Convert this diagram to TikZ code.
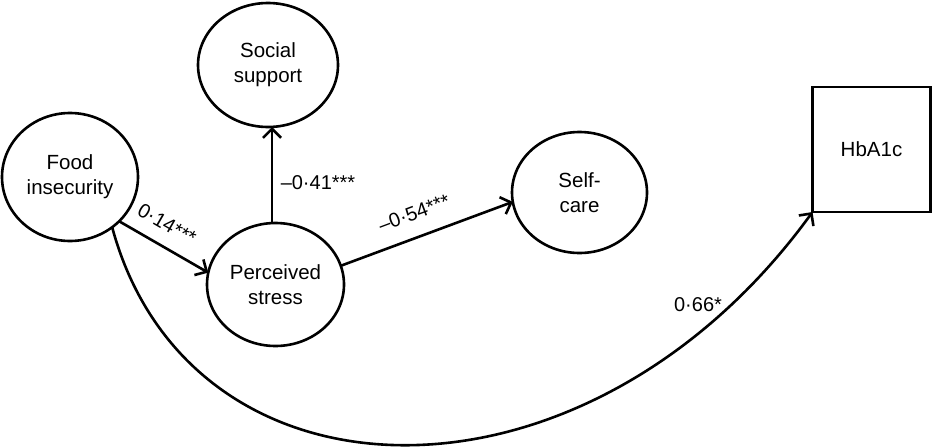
\documentclass[tikz,border=0pt]{standalone}
\usepackage{fontspec}
\setmainfont{Liberation Sans}
\usetikzlibrary{shapes.geometric,arrows.meta}
\begin{document}
\begin{tikzpicture}[x=1pt,y=-1pt,
  every node/.style={inner sep=0pt, outer sep=0pt},
  var/.style={draw, ellipse, line width=2.6pt, align=center, font=\fontsize{20.5}{25}\selectfont},
  obs/.style={draw, rectangle, line width=2.6pt, font=\fontsize{20.5}{25}\selectfont},
  arr/.style={line width=2.6pt, -{Straight Barb[length=9pt,width=18pt,line width=2.6pt]}},
  lbl/.style={font=\fontsize{20}{22}\selectfont}]
\useasboundingbox (0,0) rectangle (933,447);
\node[var, minimum width=136pt, minimum height=128pt] (food) at (70,177) {Food\\insecurity};
\node[var, minimum width=140pt, minimum height=124pt] (social) at (268,65) {Social\\support};
\node[var, minimum width=137pt, minimum height=123pt] (stress) at (275.5,284.5) {Perceived\\stress};
\node[var, minimum width=135pt, minimum height=121pt] (self) at (579.5,192.5) {Self-\\care};
\node[obs, minimum width=118pt, minimum height=125pt] (hba) at (871.5,149.5) {HbA1c};
\coordinate (lx) at (272,0);
\draw[arr] (food.-42) -- (stress.170);
\draw[arr] (stress.north -| lx) -- (social.south -| lx);
\draw[arr] (stress.16) -- (self.-172);
\draw[arr] (food.-50) .. controls (190,515) and (585,525) .. (hba.south west);
\node[lbl, rotate=-30] (l1) at (167,224) {0·14***};
\node[lbl] (l2) at (318,183) {–0·41***};
\node[lbl, rotate=20.5] (l3) at (414,213) {–0·54***};
\node[lbl] (l4) at (698,305) {0·66*};
\end{tikzpicture}
\end{document}
